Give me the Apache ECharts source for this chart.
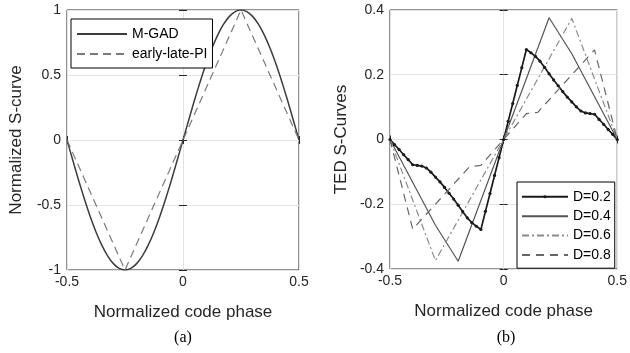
<!DOCTYPE html>
<html>
<head>
<meta charset="utf-8">
<script src="https://cdn.jsdelivr.net/npm/echarts@6/dist/echarts.min.js"></script>
<style>
  html, body { margin: 0; padding: 0; background: #fff; }
  #chart { width: 630px; height: 353px; }
</style>
</head>
<body>
<div id="chart"></div>
<script>
// (a) normalized S-curves
const codePhase = [-0.5, -0.475, -0.45, -0.425, -0.4, -0.375, -0.35, -0.325, -0.3, -0.275, -0.25,
  -0.225, -0.2, -0.175, -0.15, -0.125, -0.1, -0.075, -0.05, -0.025, 0,
  0.025, 0.05, 0.075, 0.1, 0.125, 0.15, 0.175, 0.2, 0.225, 0.25,
  0.275, 0.3, 0.325, 0.35, 0.375, 0.4, 0.425, 0.45, 0.475, 0.5];
const mgadCurve = [0, -0.156, -0.309, -0.454, -0.588, -0.707, -0.809, -0.891, -0.951, -0.988, -1,
  -0.988, -0.951, -0.891, -0.809, -0.707, -0.588, -0.454, -0.309, -0.156, 0,
  0.156, 0.309, 0.454, 0.588, 0.707, 0.809, 0.891, 0.951, 0.988, 1,
  0.988, 0.951, 0.891, 0.809, 0.707, 0.588, 0.454, 0.309, 0.156, 0];
const elPhase = [-0.5, -0.25, 0, 0.25, 0.5];
const elCurve = [0, -1, 0, 1, 0];

// (b) TED S-curves for several spacings D
const d02Phase = [-0.5, -0.48, -0.46, -0.44, -0.42, -0.4, -0.38, -0.36, -0.34, -0.32, -0.3,
  -0.28, -0.26, -0.24, -0.22, -0.2, -0.18, -0.16, -0.14, -0.12, -0.1,
  -0.08, -0.06, -0.04, -0.02, 0, 0.02, 0.04, 0.06, 0.08, 0.1,
  0.12, 0.14, 0.16, 0.18, 0.2, 0.22, 0.24, 0.26, 0.28, 0.3,
  0.32, 0.34, 0.36, 0.38, 0.4, 0.42, 0.44, 0.46, 0.48, 0.5];
const d02Curve = [0, -0.016, -0.031, -0.047, -0.062, -0.078, -0.080, -0.082, -0.088, -0.101, -0.116,
  -0.131, -0.148, -0.166, -0.184, -0.203, -0.223, -0.242, -0.257, -0.268, -0.278,
  -0.222, -0.167, -0.111, -0.056, 0, 0.056, 0.111, 0.167, 0.222, 0.278,
  0.268, 0.257, 0.242, 0.223, 0.203, 0.184, 0.166, 0.148, 0.131, 0.116,
  0.101, 0.088, 0.082, 0.080, 0.078, 0.062, 0.047, 0.031, 0.016, 0];
const d04Phase = [-0.5, -0.3, -0.2, 0, 0.2, 0.3, 0.5];
const d04Curve = [0, -0.265, -0.376, 0, 0.376, 0.265, 0];
const d06Phase = [-0.5, -0.3, 0, 0.3, 0.5];
const d06Curve = [0, -0.374, 0, 0.374, 0];
const d08Phase = [-0.5, -0.4, -0.15, -0.1, 0, 0.1, 0.15, 0.4, 0.5];
const d08Curve = [0, -0.277, -0.084, -0.08, 0, 0.08, 0.084, 0.277, 0];

const xTicks = [-0.5, 0, 0.5];
const leftNames = ['M-GAD', 'early-late-PI'];
const rightNames = ['D=0.2', 'D=0.4', 'D=0.6', 'D=0.8'];

const pairs = (xs, ys) => xs.map((x, i) => [x, ys[i]]);

const SANS = '"Liberation Sans", Arial, sans-serif';
const TXT = '#262626';
const tickFmt = v => String(Math.round(v * 10) / 10);

function mainX(gridIndex, name) {
  return {
    type: 'value', gridIndex, min: xTicks[0], max: xTicks[2], interval: 0.5,
    name, nameLocation: 'middle', nameGap: 34,
    nameTextStyle: { fontFamily: SANS, fontSize: 17, color: TXT },
    axisLine: { show: false },
    axisTick: { inside: true, length: 4, lineStyle: { color: '#262626' } },
    axisLabel: { fontFamily: SANS, fontSize: 14, color: TXT, margin: 5, formatter: tickFmt },
    splitLine: { show: true, lineStyle: { color: '#e3e3e3', width: 1 } }
  };
}
function mirrorX(gridIndex) {
  return {
    type: 'value', gridIndex, position: 'top', min: -0.5, max: 0.5, interval: 0.5,
    axisLine: { show: false }, axisLabel: { show: false }, splitLine: { show: false },
    axisTick: { inside: true, length: 4, lineStyle: { color: '#262626' } }
  };
}
function mainY(gridIndex, name, lo, hi, step, gap) {
  return {
    type: 'value', gridIndex, min: lo, max: hi, interval: step,
    name, nameLocation: 'middle', nameGap: gap,
    nameTextStyle: { fontFamily: SANS, fontSize: 17, color: TXT },
    axisLine: { show: false },
    axisTick: { inside: true, length: 4, lineStyle: { color: '#262626' } },
    axisLabel: { fontFamily: SANS, fontSize: 14, color: TXT, margin: 6, formatter: tickFmt },
    splitLine: { show: true, lineStyle: { color: '#e3e3e3', width: 1 } }
  };
}
function mirrorY(gridIndex, lo, hi, step) {
  return {
    type: 'value', gridIndex, position: 'right', min: lo, max: hi, interval: step,
    axisLine: { show: false }, axisLabel: { show: false }, splitLine: { show: false },
    axisTick: { inside: true, length: 4, lineStyle: { color: '#262626' } }
  };
}

// legend entries show only the line sample, except D=0.2 which keeps its dot
const hidden = { opacity: 0 };

const chart = echarts.init(document.getElementById('chart'), null, { renderer: 'canvas' });

chart.setOption({
  backgroundColor: '#fff',
  animation: false,
  grid: [
    { left: 67, top: 10, width: 232, height: 260, show: true, borderColor: '#262626', borderWidth: 1, backgroundColor: 'transparent' },
    { left: 390, top: 10, width: 232, height: 259, show: true, borderColor: '#262626', borderWidth: 1, backgroundColor: 'transparent' }
  ],
  xAxis: [mainX(0, 'Normalized code phase'), mainX(1, 'Normalized code phase'), mirrorX(0), mirrorX(1)],
  yAxis: [
    mainY(0, 'Normalized S-curve', -1, 1, 0.5, 42),
    mainY(1, 'TED S-Curves', -0.4, 0.4, 0.2, 40),
    mirrorY(0, -1, 1, 0.5),
    mirrorY(1, -0.4, 0.4, 0.2)
  ],
  legend: [
    {
      data: leftNames.map(n => ({ name: n, itemStyle: hidden })),
      orient: 'vertical', left: 71, top: 19,
      padding: [8, 5, 7, 5], itemGap: 6, itemWidth: 50, itemHeight: 14,
      borderColor: '#000', borderWidth: 1, backgroundColor: '#fff',
      textStyle: { fontFamily: SANS, fontSize: 14, color: '#000' }
    },
    {
      data: rightNames.map((n, i) => (i === 0 ? { name: n } : { name: n, itemStyle: hidden })),
      orient: 'vertical', left: 517, top: 182,
      padding: [6.5, 4, 5, 4], itemGap: 2.9, itemWidth: 46, itemHeight: 4,
      borderColor: '#000', borderWidth: 1, backgroundColor: '#fff',
      textStyle: { fontFamily: SANS, fontSize: 14, color: '#000', lineHeight: 16.5 }
    }
  ],
  graphic: [
    { type: 'text', x: 183, y: 338, style: { text: '(a)', textAlign: 'center', textVerticalAlign: 'middle', font: '16px "Liberation Serif", "Times New Roman", serif', fill: '#000' } },
    { type: 'text', x: 506, y: 338, style: { text: '(b)', textAlign: 'center', textVerticalAlign: 'middle', font: '16px "Liberation Serif", "Times New Roman", serif', fill: '#000' } }
  ],
  series: [
    {
      name: 'M-GAD', type: 'line', xAxisIndex: 0, yAxisIndex: 0, smooth: 0.2,
      data: pairs(codePhase, mgadCurve), symbol: 'none',
      lineStyle: { color: '#3c3c3c', width: 1.5 }, itemStyle: { color: '#3c3c3c' }
    },
    {
      name: 'early-late-PI', type: 'line', xAxisIndex: 0, yAxisIndex: 0,
      data: pairs(elPhase, elCurve), symbol: 'none',
      lineStyle: { color: '#7a7a7a', width: 1.2, type: [8, 5] }, itemStyle: { color: '#7a7a7a' }
    },
    {
      name: 'D=0.2', type: 'line', xAxisIndex: 1, yAxisIndex: 1,
      data: pairs(d02Phase, d02Curve), symbol: 'circle', symbolSize: 3.2, showSymbol: true,
      lineStyle: { color: '#1a1a1a', width: 1.7 }, itemStyle: { color: '#1a1a1a' }
    },
    {
      name: 'D=0.4', type: 'line', xAxisIndex: 1, yAxisIndex: 1,
      data: pairs(d04Phase, d04Curve), symbol: 'none',
      lineStyle: { color: '#555', width: 1.2 }, itemStyle: { color: '#555' }
    },
    {
      name: 'D=0.6', type: 'line', xAxisIndex: 1, yAxisIndex: 1,
      data: pairs(d06Phase, d06Curve), symbol: 'none',
      lineStyle: { color: '#8a8a8a', width: 1.2, type: [7, 3, 2, 3] }, itemStyle: { color: '#8a8a8a' }
    },
    {
      name: 'D=0.8', type: 'line', xAxisIndex: 1, yAxisIndex: 1,
      data: pairs(d08Phase, d08Curve), symbol: 'none',
      lineStyle: { color: '#666', width: 1.2, type: [8, 6] }, itemStyle: { color: '#666' }
    }
  ]
});
</script>
</body>
</html>
